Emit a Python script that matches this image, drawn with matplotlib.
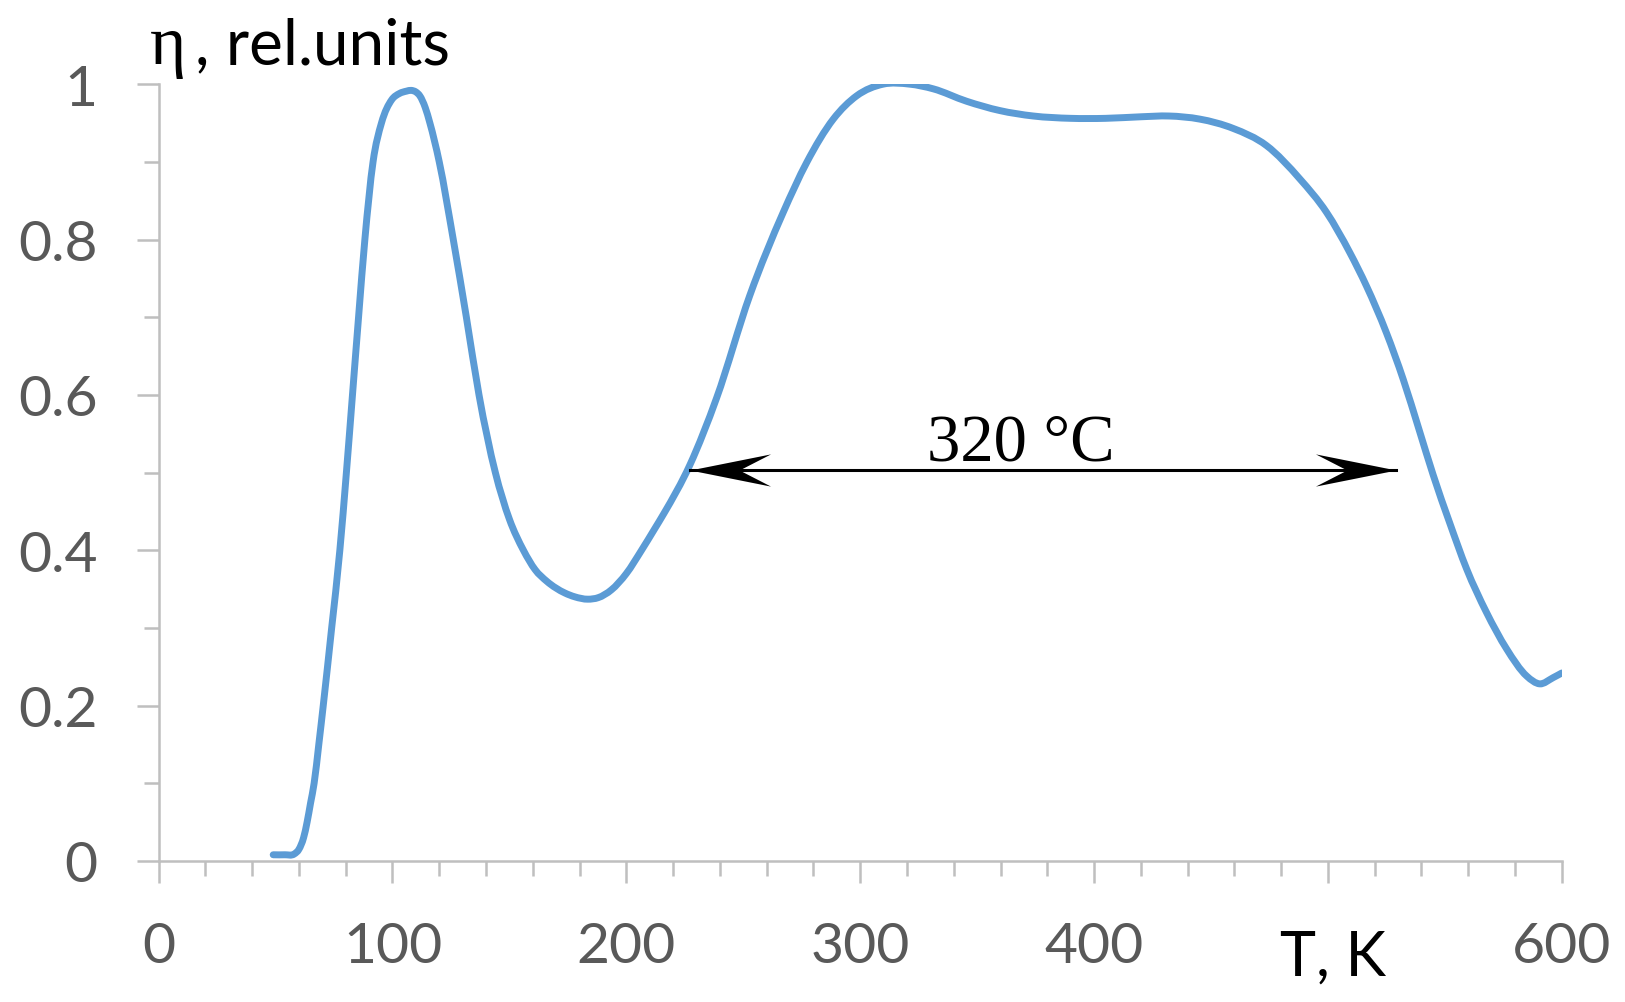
import numpy as np
import matplotlib.pyplot as plt
from matplotlib.path import Path
from matplotlib.patches import PathPatch
from matplotlib.ticker import MultipleLocator

# temperature T, K and efficiency eta (rel. units)
T = [49, 54, 58, 60, 62, 63.5, 65, 66.5, 68.5, 70.4, 74, 77.5, 80.3, 82.9,
     85.5, 88.2, 91.7, 95.3, 99.7, 103, 106, 108, 110, 111.7, 114, 116, 120,
     126, 131.6, 137, 144, 150, 156, 161, 166, 173.7, 178, 183.5, 188, 193.6,
     200, 206.5, 212, 216, 227.2, 238.6, 252.8, 267.1, 277.1, 288.5, 298.5,
     309.8, 321.2, 331.2, 345.5, 359.7, 374, 390, 405, 420, 432, 445.2,
     459.5, 473.7, 488, 499.4, 509.4, 516.5, 525, 532.2, 539, 545, 552.1,
     559.3, 567.8, 576.4, 585, 590.6, 596.3, 600]
eta = [0.008, 0.008, 0.009, 0.015, 0.03, 0.05, 0.075, 0.1, 0.15, 0.2, 0.3,
       0.4, 0.5, 0.6, 0.7, 0.8, 0.9, 0.95, 0.98, 0.988, 0.991, 0.992, 0.99,
       0.985, 0.97, 0.95, 0.9, 0.8, 0.7, 0.6, 0.5, 0.44, 0.4, 0.375, 0.36,
       0.345, 0.34, 0.337, 0.339, 0.349, 0.37, 0.4, 0.427, 0.447, 0.51,
       0.596, 0.728, 0.835, 0.899, 0.955, 0.985, 1.0, 1.0, 0.994, 0.978,
       0.966, 0.959, 0.956, 0.956, 0.958, 0.959, 0.955, 0.943, 0.921, 0.878,
       0.835, 0.783, 0.74, 0.68, 0.62, 0.555, 0.497, 0.435, 0.376, 0.32,
       0.273, 0.238, 0.228, 0.236, 0.242]

x_ticks = [0, 100, 200, 300, 400, 500, 600]
x_ticklabels = ['0', '100', '200', '300', '400', '', '600']
y_ticks = [0, 0.2, 0.4, 0.6, 0.8, 1.0]
y_ticklabels = ['0', '0.2', '0.4', '0.6', '0.8', '1']

arrow_x = [227.2, 529.3]
arrow_y = 0.503
span_label = "320 °C"


def smooth_path(x, y):
    # smoothed line like Excel: cubic Hermite pieces drawn as Beziers
    x = np.asarray(x, float)
    y = np.asarray(y, float)
    h = np.diff(x)
    d = np.diff(y) / h
    m = np.empty_like(y)
    m[0], m[-1] = d[0], d[-1]
    m[1:-1] = (d[:-1] * h[1:] + d[1:] * h[:-1]) / (h[:-1] + h[1:])
    verts = [(x[0], y[0])]
    codes = [Path.MOVETO]
    for i in range(len(x) - 1):
        verts += [(x[i] + h[i] / 3, y[i] + m[i] * h[i] / 3),
                  (x[i + 1] - h[i] / 3, y[i + 1] - m[i + 1] * h[i] / 3),
                  (x[i + 1], y[i + 1])]
        codes += [Path.CURVE4] * 3
    return Path(verts, codes)


# stealth arrow head, tip at the origin
def head(sign):
    return Path([(0, 0), (sign, 0.2), (sign * 0.61, 0), (sign, -0.2), (0, 0)],
                [Path.MOVETO, Path.LINETO, Path.LINETO, Path.LINETO, Path.CLOSEPOLY])


grey = '#bfbfbf'
fig = plt.figure(figsize=(16.25, 10.03), dpi=100)
ax = fig.add_axes([0.0976, 0.1406, 0.8635, 0.7745])

ax.add_patch(PathPatch(smooth_path(T, eta), fill=False, edgecolor='#5b9bd5',
                       lw=5, capstyle='round', joinstyle='round'))

ax.plot(arrow_x, [arrow_y, arrow_y], color='black', lw=2.2)
ax.plot(arrow_x[0], arrow_y, marker=head(1), ms=116, color='black', mew=0)
ax.plot(arrow_x[1], arrow_y, marker=head(-1), ms=116, color='black', mew=0)
ax.text(368.7, arrow_y + 0.014, span_label, ha='center', va='baseline',
        fontsize=48, family='Liberation Serif')

ax.set_xlim(0, 600)
ax.set_ylim(0, 1)
ax.set_xticks(x_ticks)
ax.set_xticklabels(x_ticklabels)
ax.xaxis.set_minor_locator(MultipleLocator(20))
ax.set_yticks(y_ticks)
ax.set_yticklabels(y_ticklabels)
ax.yaxis.set_minor_locator(MultipleLocator(0.1))

for s in ['top', 'right']:
    ax.spines[s].set_visible(False)
for s in ['left', 'bottom']:
    ax.spines[s].set_color(grey)
    ax.spines[s].set_linewidth(1.8)

ax.tick_params(which='major', length=16, width=1.8, color=grey,
               labelsize=41, labelcolor='#595959')
ax.tick_params(which='minor', length=11, width=1.8, color=grey)
ax.tick_params(axis='x', which='major', pad=27)
ax.tick_params(axis='y', which='major', pad=28)
for lab in ax.get_xticklabels() + ax.get_yticklabels():
    lab.set_family('Lato')

fig.text(0.092, 0.936, 'η', fontsize=50, family='Liberation Serif',
         ha='left', va='baseline')
fig.text(0.120, 0.936, ', rel.units', fontsize=46, family='Lato',
         ha='left', va='baseline')
fig.text(0.788, 0.027, 'T, K', fontsize=44, family='Lato', ha='left',
         va='baseline')

fig.savefig('out.png', dpi=100)
